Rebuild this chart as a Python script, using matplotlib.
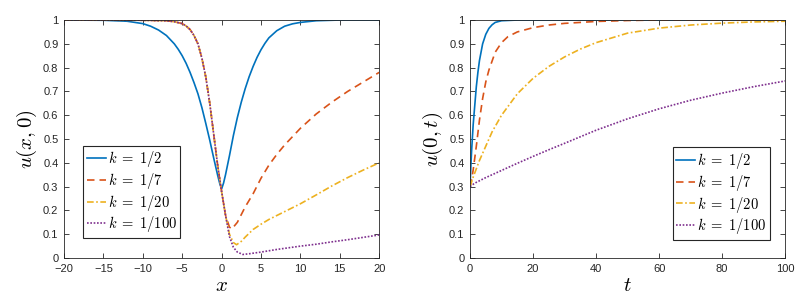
import matplotlib
matplotlib.use('Agg')
import matplotlib.pyplot as plt

# values
labels = [r'$k\;=\;1/2$', r'$k\;=\;1/7$', r'$k\;=\;1/20$', r'$k\;=\;1/100$']

# left panel: u(x,0)
x_half = [-20, -15, -12, -10, -9, -8, -7, -6, -5.5, -5, -4.5, -4, -3.5, -3, -2.5, -2,
          -1.5, -1, -0.5, -0.25, 0, 0.25, 0.5, 1, 1.5, 2, 2.5, 3, 3.5, 4, 4.5, 5, 5.5,
          6, 7, 8, 9, 10, 12, 15, 20]
u_half = [1.0, 0.999, 0.995, 0.985, 0.974, 0.958, 0.935, 0.9, 0.877, 0.85, 0.818, 0.78,
          0.737, 0.69, 0.632, 0.565, 0.495, 0.42, 0.348, 0.315, 0.29, 0.315, 0.35, 0.43,
          0.515, 0.59, 0.655, 0.712, 0.762, 0.805, 0.843, 0.875, 0.902, 0.925, 0.955,
          0.974, 0.984, 0.99, 0.997, 1.0, 1.0]

x_drop = [-20, -10, -7, -6, -5, -4.5, -4, -3.5, -3, -2.5, -2, -1.5, -1, -0.5, 0, 0.5]
u_drop = [1.0, 0.999, 0.997, 0.993, 0.985, 0.975, 0.96, 0.935, 0.9, 0.84, 0.76, 0.65,
          0.52, 0.39, 0.28, 0.18]

x_7 = x_drop + [1.0, 1.3, 2, 3, 4, 5, 6, 7, 8, 10, 12, 14, 16, 18, 20]
u_7 = u_drop + [0.13, 0.122, 0.15, 0.215, 0.27, 0.335, 0.39, 0.435, 0.475, 0.545,
                0.605, 0.655, 0.70, 0.74, 0.78]

x_20 = x_drop + [1.0, 1.5, 1.9, 2.5, 3, 4, 5, 6, 8, 10, 12, 14, 16, 18, 20]
u_20 = u_drop + [0.10, 0.065, 0.056, 0.07, 0.088, 0.12, 0.142, 0.162, 0.195, 0.228,
                 0.265, 0.303, 0.338, 0.37, 0.40]

x_100 = x_drop + [1.0, 1.5, 2, 2.7, 3.5, 5, 7, 10, 12, 14, 16, 18, 20]
u_100 = u_drop + [0.09, 0.045, 0.025, 0.015, 0.018, 0.025, 0.036, 0.05, 0.058, 0.068,
                  0.077, 0.087, 0.097]

# right panel: u(0,t)
t_half = [0, 0.25, 0.5, 1, 1.5, 2, 2.5, 3, 4, 5, 6, 7, 8, 10, 15, 100]
v_half = [0.3, 0.38, 0.45, 0.56, 0.64, 0.72, 0.78, 0.83, 0.9, 0.94, 0.965, 0.98, 0.99,
          0.997, 1.0, 1.0]

t_7 = [0, 0.5, 1, 2, 3, 4, 5, 6, 8, 10, 12, 15, 20, 25, 30, 40, 50, 60, 100]
v_7 = [0.3, 0.33, 0.37, 0.47, 0.58, 0.67, 0.74, 0.79, 0.865, 0.905, 0.93, 0.95, 0.968,
       0.979, 0.986, 0.994, 0.998, 1.0, 1.0]

t_20 = [0, 1, 2, 3, 5, 7, 10, 15, 20, 25, 30, 35, 40, 50, 60, 70, 80, 90, 100]
v_20 = [0.3, 0.34, 0.375, 0.41, 0.47, 0.53, 0.6, 0.69, 0.755, 0.805, 0.845, 0.878, 0.905,
        0.945, 0.966, 0.979, 0.987, 0.992, 0.995]

t_100 = [0, 1, 2, 5, 10, 15, 20, 25, 30, 40, 50, 60, 70, 80, 90, 100]
v_100 = [0.3, 0.31, 0.318, 0.338, 0.368, 0.398, 0.427, 0.455, 0.482, 0.537, 0.585,
         0.627, 0.663, 0.693, 0.72, 0.744]

colors = ['#0072BD', '#D95319', '#EDB120', '#7E2F8E']
styles = ['-', (0, (4.5, 3)), (0, (4, 1.5, 1, 1.5)), (0, (1, 1))]

plt.rcParams['mathtext.fontset'] = 'cm'
plt.rcParams['font.family'] = ['Liberation Sans', 'DejaVu Sans']

fig = plt.figure(figsize=(8.04, 2.99), dpi=100)
ax1 = fig.add_axes([0.0796, 0.137, 0.392, 0.796])
ax2 = fig.add_axes([0.5846, 0.137, 0.392, 0.796])

left = [(x_half, u_half), (x_7, u_7), (x_20, u_20), (x_100, u_100)]
right = [(t_half, v_half), (t_7, v_7), (t_20, v_20), (t_100, v_100)]

for i in range(4):
    ax1.plot(left[i][0], left[i][1], color=colors[i], ls=styles[i], lw=1.2, label=labels[i])
    ax2.plot(right[i][0], right[i][1], color=colors[i], ls=styles[i], lw=1.2, label=labels[i])

ax1.set_xlim(-20, 20)
ax1.set_xticks(range(-20, 21, 5))
ax2.set_xlim(0, 100)
ax2.set_xticks(range(0, 101, 20))

yt = [i / 10 for i in range(11)]
ytl = ['0'] + ['%.1f' % v for v in yt[1:-1]] + ['1']
for ax in (ax1, ax2):
    ax.set_ylim(0, 1)
    ax.set_yticks(yt)
    ax.set_yticklabels(ytl)
    ax.tick_params(direction='in', top=True, right=True, length=3.5, width=0.6,
                   labelsize=8, color='#262626', labelcolor='#262626')
    ax.tick_params(axis='x', pad=4.5)
    ax.tick_params(axis='y', pad=4)
    for s in ax.spines.values():
        s.set_linewidth(0.6)
        s.set_color('#262626')

ax1.set_xlabel('$x$', fontsize=15, labelpad=1)
ax1.set_ylabel('$u(x,0)$', fontsize=15, labelpad=3)
ax2.set_xlabel('$t$', fontsize=15, labelpad=1)
ax2.set_ylabel('$u(0,t)$', fontsize=15, labelpad=3)

leg_kw = dict(fontsize=10.5, handlelength=1.3, handletextpad=0.15, labelspacing=0.12,
              borderpad=0.25, borderaxespad=0, fancybox=False, framealpha=1,
              edgecolor='#262626')
l1 = ax1.legend(loc='lower left', bbox_to_anchor=(0.06, 0.084), **leg_kw)
l2 = ax2.legend(loc='lower right', bbox_to_anchor=(0.952, 0.076), **leg_kw)
for l in (l1, l2):
    l.get_frame().set_linewidth(0.8)

fig.savefig('out.png', dpi=100)
